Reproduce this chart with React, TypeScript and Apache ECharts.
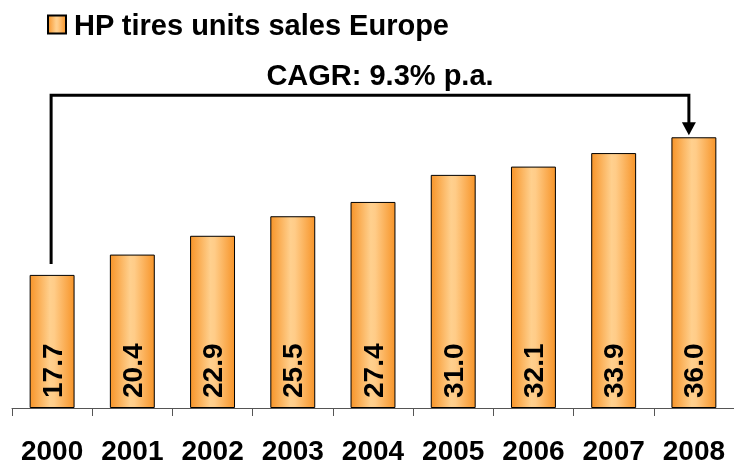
import React, { useEffect, useRef } from "react";
import * as echarts from "echarts";

const years = ["2000", "2001", "2002", "2003", "2004", "2005", "2006", "2007", "2008"];
const sales = [17.7, 20.4, 22.9, 25.5, 27.4, 31.0, 32.1, 33.9, 36.0];
const seriesName = "HP tires units sales Europe";
const cagrText = "CAGR: 9.3% p.a.";
const bracketLevel = 41.6;

const FONT = "'Liberation Sans', Arial, Helvetica, sans-serif";

export default function App() {
  const ref = useRef<HTMLDivElement>(null);
  useEffect(() => {
    if (!ref.current) return;
    const chart = echarts.init(ref.current, null, { renderer: "svg" });
    const barColor = new echarts.graphic.LinearGradient(0, 0, 1, 0, [
      { offset: 0, color: "#F7952A" },
      { offset: 0.45, color: "#FFD08E" },
      { offset: 0.55, color: "#FFCC88" },
      { offset: 1, color: "#F7952A" },
    ]);
    chart.setOption({
      animation: false,
      legend: {
        show: true,
        left: 42,
        top: 5,
        icon: "rect",
        itemWidth: 18,
        itemHeight: 18,
        textStyle: {
          fontFamily: FONT,
          fontSize: 29,
          fontWeight: "bold",
          color: "#000",
          padding: [0, 0, 0, 3],
        },
        data: [seriesName],
      },
      grid: { left: 12, width: 727, top: 32, bottom: 54 },
      xAxis: {
        type: "category",
        data: years,
        boundaryGap: true,
        axisLine: { lineStyle: { color: "#555", width: 1 } },
        axisTick: { show: true, length: 8, lineStyle: { color: "#555" } },
        axisLabel: {
          interval: 0,
          fontFamily: FONT,
          fontSize: 28,
          fontWeight: "bold",
          color: "#000",
          margin: 28,
        },
      },
      yAxis: {
        type: "value",
        min: 0,
        max: 50,
        show: false,
        splitLine: { show: false },
      },
      series: [
        {
          name: seriesName,
          type: "bar",
          data: sales,
          barWidth: "56%",
          itemStyle: { color: barColor, borderColor: "#000", borderWidth: 1 },
          label: {
            show: true,
            position: "insideBottom",
            rotate: 90,
            align: "left",
            verticalAlign: "middle",
            distance: 10,
            fontFamily: FONT,
            fontSize: 28,
            fontWeight: "bold",
            color: "#000",
            formatter: (p: any) => Number(p.value).toFixed(1),
          },
        },
      ],
    });

    const first = chart.convertToPixel({ gridIndex: 0 }, [0, sales[0]]) as number[];
    const last = chart.convertToPixel({ gridIndex: 0 }, [years.length - 1, sales[sales.length - 1]]) as number[];
    const level = chart.convertToPixel({ gridIndex: 0 }, [0, bracketLevel]) as number[];
    const x0 = first[0] - 1;
    const x1 = last[0] - 5;
    const yb = level[1];
    const arrowTip = last[1] - 2;
    chart.setOption({
      graphic: [
        {
          type: "polyline",
          shape: {
            points: [
              [x0, first[1] - 11],
              [x0, yb],
              [x1, yb],
              [x1, arrowTip - 10],
            ],
          },
          style: { stroke: "#000", lineWidth: 3, fill: null },
          z: 10,
        },
        {
          type: "polygon",
          shape: {
            points: [
              [x1 - 7, arrowTip - 13],
              [x1 + 7, arrowTip - 13],
              [x1, arrowTip],
            ],
          },
          style: { fill: "#000" },
          z: 10,
        },
        {
          type: "text",
          x: (x0 + x1) / 2 + 10,
          y: yb - 20,
          style: {
            text: cagrText,
            fontFamily: FONT,
            fontSize: 29,
            fontWeight: "bold",
            fill: "#000",
            align: "center",
            verticalAlign: "middle",
          },
          z: 10,
        },
      ],
    });
    return () => chart.dispose();
  }, []);
  return (
    <div
      ref={ref}
      style={{ position: "fixed", left: 0, top: 0, width: 734, height: 464 }}
    />
  );
}
